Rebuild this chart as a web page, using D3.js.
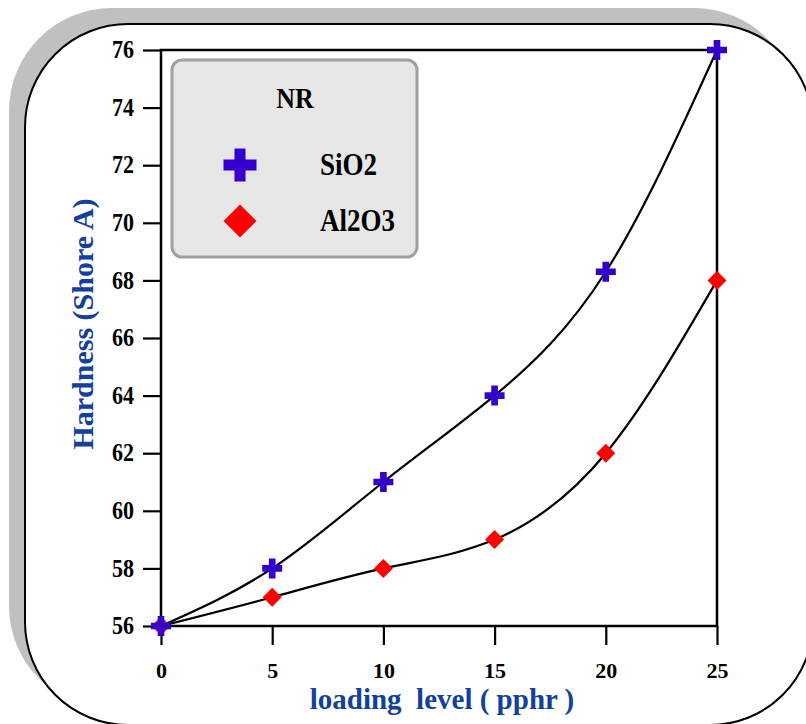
<!DOCTYPE html>
<html>
<head>
<meta charset="utf-8">
<script src="https://cdn.jsdelivr.net/npm/d3@7"></script>
<style>
  html, body { margin: 0; padding: 0; background: #fff; }
  svg { display: block; }
  text { font-family: "Liberation Serif", "Times New Roman", serif; font-weight: bold; }
</style>
</head>
<body>
<svg id="chart" width="806" height="724"></svg>
<script>
// ---- data ----
const loading = [0, 5, 10, 15, 20, 25];
const sio2 = [56, 58, 61, 64, 68.3, 76];
const al2o3 = [56, 57, 58, 59, 62, 68];
const xTicks = [0, 5, 10, 15, 20, 25];
const yTicks = [56, 58, 60, 62, 64, 66, 68, 70, 72, 74, 76];
const legendTitle = "NR";
const seriesNames = ["SiO2", "Al2O3"];
const xTitle = "loading  level ( pphr )";
const yTitle = "Hardness (Shore A)";

const svg = d3.select("#chart");

// frame with shadow
svg.append("rect").attr("x", 9).attr("y", 8).attr("width", 788).attr("height", 701)
  .attr("rx", 103).attr("ry", 103).attr("fill", "#c0c0c0");
svg.append("rect").attr("x", 25).attr("y", 24).attr("width", 788).attr("height", 701)
  .attr("rx", 103).attr("ry", 103).attr("fill", "#fff").attr("stroke", "#000").attr("stroke-width", 2);

const x = d3.scaleLinear().domain([0, 25]).range([161, 717]);
const y = d3.scaleLinear().domain([56, 76]).range([626, 50]);

// axes
const yAxis = svg.append("g").attr("transform", `translate(${x(0)},0)`)
  .call(d3.axisLeft(y).tickValues(yTicks).tickSize(18).tickPadding(9).tickFormat(d3.format("d")));
const xAxis = svg.append("g").attr("transform", `translate(0,${y(56)})`)
  .call(d3.axisBottom(x).tickValues(xTicks).tickSize(19).tickPadding(17).tickFormat(d3.format("d")));
[yAxis, xAxis].forEach(g => {
  g.select(".domain").remove();
  g.selectAll(".tick line").attr("stroke", "#000").attr("stroke-width", 2.2);
  g.selectAll(".tick text").attr("fill", "#000").style("font-size", "22px")
    .style("font-family", '"Liberation Serif", "Times New Roman", serif').style("font-weight", "bold");
});
// slight vertical stretch of y tick labels, as in the reference
yAxis.selectAll(".tick text").each(function() {
  const t = d3.select(this);
  const tx = +t.attr("x");
  t.attr("transform", `translate(${tx},0) scale(1,1.1)`).attr("x", 0);
});

// plot frame
svg.append("rect").attr("x", x(0)).attr("y", y(76)).attr("width", x(25) - x(0)).attr("height", y(56) - y(76))
  .attr("fill", "none").attr("stroke", "#000").attr("stroke-width", 2.5);

// lines
const line = d3.line().x(d => x(d[0])).y(d => y(d[1])).curve(d3.curveNatural);
const s1 = loading.map((v, i) => [v, sio2[i]]);
const s2 = loading.map((v, i) => [v, al2o3[i]]);
[s1, s2].forEach(s => {
  svg.append("path").attr("d", line(s)).attr("fill", "none").attr("stroke", "#000").attr("stroke-width", 2.2);
});

// markers
const diamond = d3.symbol().type(d3.symbolSquare).size(180);
const cross = d3.symbol().type(d3.symbolCross).size(222);
svg.append("g").selectAll("path").data(s2).join("path")
  .attr("d", diamond).attr("fill", "#ff0000")
  .attr("transform", d => `translate(${x(d[0])},${y(d[1])}) rotate(45)`);
svg.append("g").selectAll("path").data(s1).join("path")
  .attr("d", cross).attr("fill", "#3300cc")
  .attr("transform", d => `translate(${x(d[0])},${y(d[1])})`);

// legend
const lg = svg.append("g");
lg.append("rect").attr("x", 172).attr("y", 60).attr("width", 245).attr("height", 197)
  .attr("rx", 10).attr("ry", 10).attr("fill", "#e6e6e6").attr("stroke", "#a0a0a0").attr("stroke-width", 3);
lg.append("text").attr("transform", "translate(295,108) scale(1,1.15)").attr("text-anchor", "middle")
  .style("font-size", "26px").attr("fill", "#000").text(legendTitle);
lg.append("path").attr("d", d3.symbol().type(d3.symbolCross).size(605))
  .attr("fill", "#3300cc").attr("transform", "translate(240,165)");
lg.append("path").attr("d", d3.symbol().type(d3.symbolSquare).size(545))
  .attr("fill", "#ff0000").attr("transform", "translate(240,221) rotate(45)");
lg.append("text").attr("transform", "translate(320,175) scale(1,1.15)")
  .style("font-size", "27px").attr("fill", "#000").text(seriesNames[0]);
lg.append("text").attr("transform", "translate(320,231) scale(1,1.15)")
  .style("font-size", "27px").attr("fill", "#000").text(seriesNames[1]);

// axis titles
svg.append("text").attr("x", 442).attr("y", 709).attr("text-anchor", "middle")
  .style("font-size", "29px").style("white-space", "pre").attr("fill", "#13409e").text(xTitle);
svg.append("text").attr("transform", "translate(93,324) rotate(-90)").attr("text-anchor", "middle")
  .style("font-size", "30px").attr("fill", "#13409e").text(yTitle);
</script>
</body>
</html>
